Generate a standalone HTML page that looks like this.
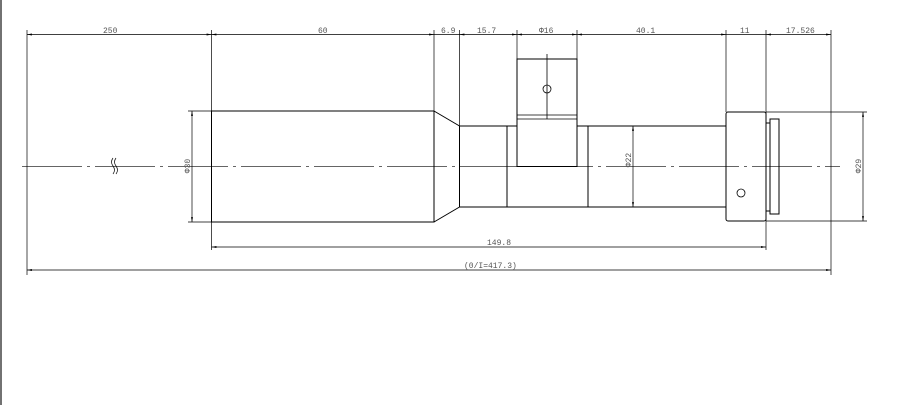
<!DOCTYPE html>
<html><head><meta charset="utf-8"><style>
html,body{margin:0;padding:0;background:#fff;}
svg{display:block;}
text{font-family:"Liberation Mono","DejaVu Sans Mono",monospace;font-size:8px;fill:#555;}
</style></head><body>
<svg width="901" height="405" viewBox="0 0 901 405" xmlns="http://www.w3.org/2000/svg">
<defs>
<marker id="a" viewBox="0 0 10 4" refX="10" refY="2" markerWidth="7" markerHeight="3" orient="auto-start-reverse"><path d="M0,0L10,2L0,4z" fill="#000"/></marker>
</defs>
<line x1="1" y1="0" x2="1" y2="405" stroke="#444" stroke-width="1.5"/>
<g stroke="#000" stroke-width="1" fill="none">
<!-- centerline -->
<line x1="22" y1="166.5" x2="840" y2="166.5" stroke="#333" stroke-width="0.7" stroke-dasharray="60,5,3,5"/>
<!-- extension lines -->
<line x1="27" y1="30" x2="27" y2="275" stroke-width="0.7"/>
<line x1="211.5" y1="30" x2="211.5" y2="250" stroke-width="0.7"/>
<line x1="434" y1="30" x2="434" y2="111" stroke-width="0.7"/>
<line x1="459.5" y1="30" x2="459.5" y2="126" stroke-width="0.7"/>
<line x1="517" y1="30" x2="517" y2="59" stroke-width="0.7"/>
<line x1="577" y1="30" x2="577" y2="59" stroke-width="0.7"/>
<line x1="726" y1="30" x2="726" y2="112" stroke-width="0.7"/>
<line x1="766" y1="30" x2="766" y2="250" stroke-width="0.7"/>
<line x1="831" y1="30" x2="831" y2="275" stroke-width="0.7"/>
<!-- top dims -->
<g stroke-width="0.7" marker-start="url(#a)" marker-end="url(#a)">
<line x1="27" y1="34.5" x2="211.5" y2="34.5"/>
<line x1="211.5" y1="34.5" x2="434" y2="34.5"/>
<line x1="459.5" y1="34.5" x2="517" y2="34.5"/>
<line x1="517" y1="34.5" x2="577" y2="34.5"/>
<line x1="577" y1="34.5" x2="726" y2="34.5"/>
<line x1="766" y1="34.5" x2="831" y2="34.5"/>
<line x1="211.5" y1="247" x2="766" y2="247"/>
<line x1="27" y1="270" x2="831" y2="270"/>
<line x1="192" y1="111" x2="192" y2="222"/>
<line x1="633" y1="126" x2="633" y2="207"/>
<line x1="863" y1="112" x2="863" y2="221"/>
</g>
<line x1="434" y1="34.5" x2="459.5" y2="34.5" stroke-width="0.7"/>
<line x1="726" y1="34.5" x2="766" y2="34.5" stroke-width="0.7"/>
<line x1="188" y1="111" x2="211" y2="111" stroke-width="0.7"/>
<line x1="188" y1="222" x2="211" y2="222" stroke-width="0.7"/>
<line x1="766" y1="112" x2="867" y2="112" stroke-width="0.7"/>
<line x1="766" y1="221" x2="867" y2="221" stroke-width="0.7"/>
<!-- body -->
<rect x="211.5" y="111" width="222.5" height="111"/>
<path d="M434,111L459.5,126L459.5,207L434,222"/>
<line x1="459.5" y1="126" x2="517" y2="126"/>
<line x1="459.5" y1="207" x2="726" y2="207"/>
<line x1="577" y1="126" x2="726" y2="126"/>
<line x1="507" y1="126" x2="507" y2="207"/>
<line x1="588" y1="126" x2="588" y2="207"/>
<rect x="517" y="59" width="60" height="107.5"/>
<line x1="517" y1="115" x2="577" y2="115" stroke-width="0.8"/>
<line x1="517" y1="119" x2="577" y2="119" stroke-width="0.8"/>
<line x1="547" y1="54" x2="547" y2="119" stroke-width="0.8"/>
<circle cx="547" cy="89" r="4" stroke-width="0.8"/>
<rect x="726" y="112" width="40" height="109" rx="2"/>
<circle cx="741" cy="193" r="4" stroke-width="0.8"/>
<line x1="766" y1="123" x2="770" y2="123"/>
<line x1="766" y1="211" x2="770" y2="211"/>
<rect x="770" y="119" width="9" height="95"/>
<!-- break mark -->
<path d="M113,158 q-3,4 0,8 q3,4 0,8 M116,158 q-3,4 0,8 q3,4 0,8" stroke-width="0.7"/>
</g>
<text x="103" y="33">250</text>
<text x="318" y="33">60</text>
<text x="441" y="33">6.9</text>
<text x="477" y="33">15.7</text>
<text x="539" y="33">Φ16</text>
<text x="636" y="33">40.1</text>
<text x="740" y="33">11</text>
<text x="786" y="33">17.526</text>
<text x="487" y="245">149.8</text>
<text x="464" y="268">(0/I=417.3)</text>
<text transform="translate(190,166) rotate(-90)" text-anchor="middle">Φ30</text>
<text transform="translate(631,160) rotate(-90)" text-anchor="middle">Φ22</text>
<text transform="translate(861,166) rotate(-90)" text-anchor="middle">Φ29</text>
</svg>
</body></html>
